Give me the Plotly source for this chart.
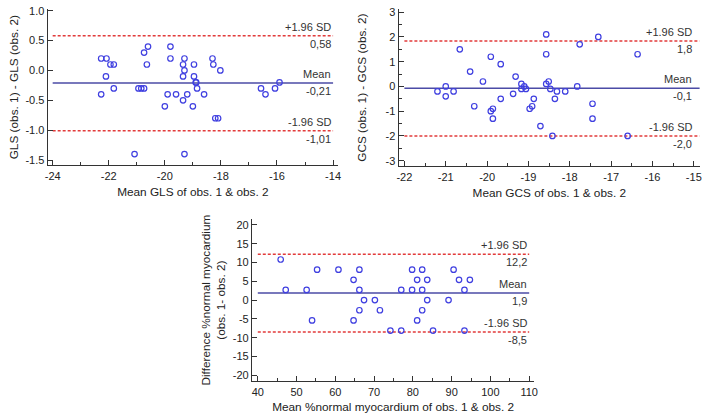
import plotly.graph_objects as go

# --- GLS panel (top left) ---
gls_mean = [-22.27, -22.08, -22.27, -22.1, -21.94, -21.82, -21.82, -21.08,
            -20.94, -20.84, -20.74, -20.74, -20.6, -20.64,
            -20.0, -19.9, -19.8, -19.8, -19.6,
            -19.35, -19.3, -19.3, -19.35, -19.35, -19.3, -19.2,
            -18.96, -18.96, -19.0, -18.9, -18.88, -18.85, -18.6,
            -18.3, -18.27, -18.2, -18.1, -18.02,
            -16.57, -16.41, -16.07, -15.91]
gls_diff = [0.2, 0.2, -0.4, -0.1, 0.1, 0.1, -0.3, -1.4,
            -0.3, -0.3, -0.3, 0.3, 0.4, 0.1,
            -0.6, -0.4, 0.4, 0.2, -0.4,
            0.1, 0.2, 0.0, -0.1, -0.5, -1.4, -0.4,
            0.1, -0.1, -0.6, -0.2, -0.2, -0.3, -0.4,
            0.2, 0.1, -0.8, -0.8, 0.0,
            -0.3, -0.4, -0.3, -0.2]
gls_limits = [0.58, -0.21, -1.01]
gls_limit_text = ["0,58", "-0,21", "-1,01"]

# --- GCS panel (top right) ---
gcs_mean = [-21.2, -21.0, -21.0, -20.81, -20.66, -20.41, -20.31, -20.1, -19.91, -19.91,
            -19.86, -19.86, -19.67, -19.67, -19.37, -19.31, -19.17, -19.1, -19.17, -19.06,
            -18.97, -18.91, -18.87, -18.71, -18.57, -18.57, -18.57, -18.51, -18.47, -18.42,
            -18.36, -18.31, -18.11, -17.82, -17.76, -17.31, -17.45, -17.45, -16.6, -16.36]
gcs_diff = [-0.2, 0.0, -0.4, -0.2, 1.5, 0.6, -0.8, 0.2, 1.2, -1.0,
            -0.9, -1.3, 0.9, -0.5, -0.3, 0.4, 0.1, 0.0, -0.1, -0.1,
            -0.9, -0.8, -0.5, -1.6, 2.1, 1.3, 0.1, 0.2, -0.1, -2.0,
            -0.5, -0.2, -0.2, 0.0, 1.7, 2.0, -0.7, -1.3, -2.0, 1.3]
gcs_limits = [1.84, -0.07, -2.0]
gcs_limit_text = ["1,8", "-0,1", "-2,0"]

# --- %normal myocardium panel (bottom) ---
myo_mean = [45.9, 47.2, 52.6, 54.0, 55.3, 60.8, 64.7, 64.7, 66.2, 66.2,
            66.2, 67.4, 70.2, 71.5, 74.2, 77.0, 77.0, 79.8, 79.8, 81.1,
            81.1, 82.4, 82.4, 82.4, 83.7, 83.7, 85.2, 89.2, 90.5, 91.9,
            93.3, 93.3, 94.7]
myo_diff = [10.8, 2.7, 2.7, -5.4, 8.1, 8.1, 5.4, -5.4, 8.1, 2.7,
            -2.7, 0, 0, -2.7, -8.1, 2.7, -8.1, 8.1, 2.7, 5.4,
            -5.4, 8.1, 2.7, -2.7, 5.4, 0, -8.1, 0, 8.1, 5.4,
            2.7, -8.1, 5.4]
myo_limits = [12.2, 1.9, -8.5]
myo_limit_text = ["12,2", "1,9", "-8,5"]

limit_names = ["+1.96 SD", "Mean", "-1.96 SD"]

gls_xticks = [-24, -22, -20, -18, -16, -14]
gls_yticks = [-1.5, -1.0, -0.5, 0.0, 0.5, 1.0]
gcs_xticks = [-22, -21, -20, -19, -18, -17, -16, -15]
gcs_yticks = [-3, -2, -1, 0, 1, 2, 3]
myo_xticks = [40, 50, 60, 70, 80, 90, 100, 110]
myo_yticks = [-20, -15, -10, -5, 0, 5, 10, 15, 20]

FONT = "Liberation Sans, Arial, sans-serif"
MARKER_BLUE = "#3f3fe0"
MEAN_BLUE = "#4b4ba6"
LIMIT_RED = "#e23b3b"
AXIS = "#333333"

panels = [
    dict(ax="", x=gls_mean, y=gls_diff, lim=gls_limits, lim_txt=gls_limit_text,
         xt=gls_xticks, yt=gls_yticks, yfmt="{:.1f}", xspan=[-24, -14],
         xrange=[-24.18, -13.82], yrange=[-1.59, 1.03],
         xdom=[45 / 704, 338 / 704], ydom=[1 - 163 / 414, 1 - 5 / 414],
         xminor=1, yminor=None, ystand=4,
         xtitle="Mean GLS of obs. 1 &amp; obs. 2", ytitle="GLS (obs. 1) - GLS (obs. 2)"),
    dict(ax="2", x=gcs_mean, y=gcs_diff, lim=gcs_limits, lim_txt=gcs_limit_text,
         xt=gcs_xticks, yt=gcs_yticks, yfmt="{:d}", xspan=[-22, -14.86],
         xrange=[-22.14, -14.85], yrange=[-3.23, 3.13],
         xdom=[399 / 704, 703 / 704], ydom=[1 - 164 / 414, 1 - 5 / 414],
         xminor=0.5, yminor=0.5, ystand=16,
         xtitle="Mean GCS of obs. 1 &amp; obs. 2", ytitle="GCS (obs. 1) - GCS (obs. 2)"),
    dict(ax="3", x=myo_mean, y=myo_diff, lim=myo_limits, lim_txt=myo_limit_text,
         xt=myo_xticks, yt=myo_yticks, yfmt="{:d}", xspan=[40, 110],
         xrange=[38.47, 111.35], yrange=[-21.6, 21.6],
         xdom=[251 / 704, 536 / 704], ydom=[1 - 381 / 414, 1 - 217 / 414],
         xminor=5, yminor=None, ystand=4,
         xtitle="Mean %normal myocardium of obs. 1 &amp; obs. 2",
         ytitle="Difference %normal myocardium<br>(obs. 1- obs. 2)"),
]

fig = go.Figure()
annotations = []

for p in panels:
    xa, ya = "x" + p["ax"], "y" + p["ax"]
    # limits of agreement and mean, labels right-aligned at the last x tick
    for i, v in enumerate(p["lim"]):
        fig.add_trace(go.Scatter(
            x=p["xspan"], y=[v, v], xaxis=xa, yaxis=ya, mode="lines",
            line=dict(color=MEAN_BLUE if i == 1 else LIMIT_RED, width=1.5,
                      dash="solid" if i == 1 else "3px,2px"),
            hoverinfo="skip"))
        annotations.append(dict(x=p["xt"][-1], y=v, xref=xa, yref=ya,
                                text=limit_names[i], showarrow=False,
                                xanchor="right", yanchor="bottom", yshift=1))
        annotations.append(dict(x=p["xt"][-1], y=v, xref=xa, yref=ya,
                                text=p["lim_txt"][i], showarrow=False,
                                xanchor="right", yanchor="top", yshift=0))
    fig.add_trace(go.Scatter(
        x=p["x"], y=p["y"], xaxis=xa, yaxis=ya, mode="markers",
        marker=dict(symbol="circle-open", size=5.5, color=MARKER_BLUE,
                    line=dict(width=1.2, color=MARKER_BLUE))))

    n = p["ax"]
    common = dict(showline=True, linecolor=AXIS, linewidth=1, ticks="inside",
                  ticklen=5, tickcolor=AXIS, showgrid=False, zeroline=False,
                  tickfont=dict(family=FONT, size=11, color="#222"),
                  title_font=dict(family=FONT, size=11.8, color="#222"))
    xminor = dict(ticks="inside", ticklen=3, tickcolor=AXIS, dtick=p["xminor"])
    fig.layout["xaxis" + n] = dict(
        common, domain=p["xdom"], range=p["xrange"], anchor=ya,
        tickvals=p["xt"], ticktext=[str(v) for v in p["xt"]],
        minor=xminor, title=dict(text=p["xtitle"], standoff=7))
    yaxis = dict(
        common, domain=p["ydom"], range=p["yrange"], anchor=xa,
        tickvals=p["yt"], ticktext=[p["yfmt"].format(v) for v in p["yt"]],
        title=dict(text=p["ytitle"], standoff=p["ystand"]))
    if p["yminor"]:
        yaxis["minor"] = dict(ticks="inside", ticklen=3, tickcolor=AXIS, dtick=p["yminor"])
    fig.layout["yaxis" + n] = yaxis

for a in annotations:
    a["font"] = dict(family=FONT, size=11, color="#333")

fig.update_layout(
    width=704, height=414, margin=dict(l=0, r=0, t=0, b=0),
    paper_bgcolor="white", plot_bgcolor="white", showlegend=False,
    annotations=annotations)

# the page body has a default 8px margin; drop it so the figure sits at 0,0
fig.write_html("out.html", config={"displayModeBar": False},
               post_script="document.body.style.margin = '0';")
